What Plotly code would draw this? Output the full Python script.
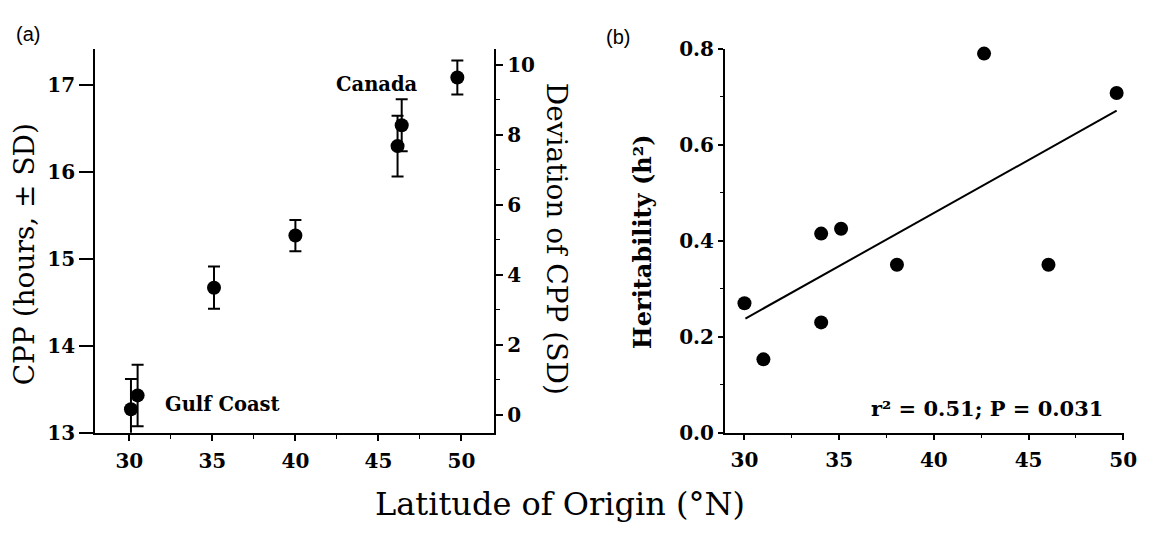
import plotly.graph_objects as go

# ---------------- Panel (a) data ----------------
lat_a = [30.1, 30.5, 35.1, 40.0, 46.15, 46.4, 49.75]
cpp_hours = [13.27, 13.43, 14.67, 15.27, 16.30, 16.54, 17.09]
cpp_sd = [0.35, 0.354, 0.243, 0.18, 0.35, 0.30, 0.196]

# ---------------- Panel (b) data ----------------
lat_b = [30.0, 31.0, 34.05, 34.05, 35.1, 38.05, 42.65, 46.05, 49.65]
heritability = [0.27, 0.153, 0.415, 0.23, 0.425, 0.35, 0.79, 0.35, 0.708]
fit_x = [30.05, 49.65]
fit_y = [0.238, 0.671]

x_ticks = [30, 35, 40, 45, 50]
cpp_ticks = [13, 14, 15, 16, 17]
dev_ticks = [0, 2, 4, 6, 8, 10]
h_ticks = [0.0, 0.2, 0.4, 0.6, 0.8]

SERIF = "DejaVu Serif"
TICKFONT = dict(family=SERIF, size=20, color="black", weight="bold")

fig = go.Figure()

fig.add_trace(go.Scatter(
    x=lat_a, y=cpp_hours, mode="markers", xaxis="x", yaxis="y",
    marker=dict(color="black", size=14),
    error_y=dict(type="data", array=cpp_sd, visible=True, color="black",
                 thickness=2, width=6),
    showlegend=False, cliponaxis=False,
))
# invisible helper so the right-hand deviation axis is drawn
fig.add_trace(go.Scatter(
    x=[lat_a[0]], y=[dev_ticks[0]], mode="markers", xaxis="x", yaxis="y2",
    marker=dict(opacity=0, size=1), hoverinfo="skip", showlegend=False,
))

fig.add_trace(go.Scatter(
    x=fit_x, y=fit_y, mode="lines", xaxis="x2", yaxis="y3",
    line=dict(color="black", width=2), showlegend=False,
))
fig.add_trace(go.Scatter(
    x=lat_b, y=heritability, mode="markers", xaxis="x2", yaxis="y3",
    marker=dict(color="black", size=14), showlegend=False, cliponaxis=False,
))

W, H = 1157, 536
ydom = [1 - 440.5 / H, 1 - 38.5 / H]

axis_common = dict(showline=True, linecolor="black", linewidth=1.5,
                   showgrid=False, zeroline=False, ticks="outside",
                   tickcolor="black", tickwidth=1.5, tickfont=TICKFONT)

fig.update_layout(
    width=W, height=H,
    margin=dict(l=0, r=0, t=0, b=0),
    paper_bgcolor="white", plot_bgcolor="white",
    showlegend=False,
    xaxis=dict(domain=[96 / W, 500 / W], range=[27.93, 51.98], anchor="y",
               tickvals=x_ticks, ticklen=6, ticklabelstandoff=3,
               minor=dict(dtick=2.5, tick0=0, ticks="outside", ticklen=4,
                          tickcolor="black", tickwidth=1),
               **axis_common),
    yaxis=dict(domain=ydom, range=[13, 17.42], anchor="x",
               tickvals=cpp_ticks, ticklen=14, **axis_common),
    yaxis2=dict(overlaying="y", side="right", anchor="x",
                range=[-0.52, 10.46], tickvals=dev_ticks, ticklen=7,
                minor=dict(dtick=1, tick0=0, ticks="outside", ticklen=4,
                           tickcolor="black", tickwidth=1),
                **axis_common),
    xaxis2=dict(domain=[733 / W, 1137 / W], range=[28.96, 50.05], anchor="y3",
                tickvals=x_ticks, ticklen=5, ticklabelstandoff=3,
                minor=dict(dtick=2.5, tick0=0, ticks="outside", ticklen=3,
                           tickcolor="black", tickwidth=1),
                **axis_common),
    yaxis3=dict(domain=ydom, range=[0, 0.8], anchor="x2",
                tickvals=h_ticks, tickformat=".1f", ticklen=5,
                minor=dict(dtick=0.1, tick0=0, ticks="outside", ticklen=3,
                           tickcolor="black", tickwidth=1),
                **axis_common),
)

def paper_text(text, x, y, size, angle=0, bold=False, family=SERIF):
    fig.add_annotation(
        text=text, x=x / W, y=1 - y / H, xref="paper", yref="paper",
        showarrow=False, textangle=angle, xanchor="center", yanchor="middle",
        font=dict(family=family, size=size, color="black",
                  weight="bold" if bold else "normal"),
    )

paper_text("(a)", 28, 23, 20, family="Liberation Sans")
paper_text("(b)", 625, 26, 20, family="Liberation Sans")
paper_text("CPP (hours, ± SD)", 25, 254, 28, angle=-90)
paper_text("Deviation of CPP (SD)", 563, 237, 28, angle=90)
paper_text("Heritability (h²)", 650, 240, 24, angle=-90, bold=True)
paper_text("Latitude of Origin (°N)", 566, 515, 32)

fig.add_annotation(text="Canada", x=44.9, y=17.01, xref="x", yref="y",
                   showarrow=False, font=dict(family=SERIF, size=19.5,
                                              color="black", weight="bold"))
fig.add_annotation(text="Gulf Coast", x=35.6, y=13.33, xref="x", yref="y",
                   showarrow=False, font=dict(family=SERIF, size=19.5,
                                              color="black", weight="bold"))
fig.add_annotation(text="r² = 0.51; P = 0.031", x=42.8, y=0.05,
                   xref="x2", yref="y3", showarrow=False,
                   font=dict(family=SERIF, size=21, color="black",
                             weight="bold"))

fig.write_html(
    "out.html",
    config={"displayModeBar": False},
    post_script="document.body.style.margin='0';"
                "document.body.style.overflow='hidden';",
)
